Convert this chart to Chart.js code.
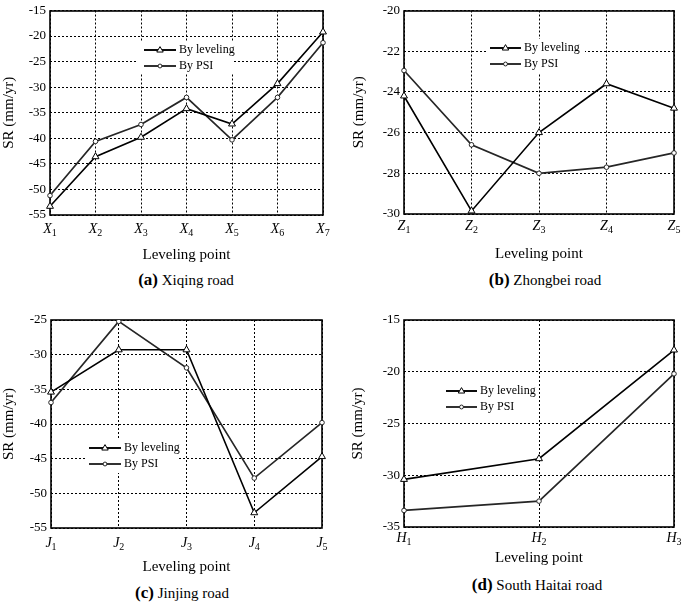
<!DOCTYPE html>
<html><head><meta charset="utf-8">
<script src="https://cdn.jsdelivr.net/npm/chart.js@4/dist/chart.umd.min.js"></script>
<style>
html,body{margin:0;padding:0;background:#fff;}
body{width:685px;height:602px;position:relative;overflow:hidden;}
canvas{position:absolute;}
.cap{position:absolute;font-family:"Liberation Serif",serif;font-size:15px;white-space:nowrap;transform:translate(-50%,-50%);line-height:18px;color:#000;}
.cap b{font-size:17px;}
</style></head>
<body>
<canvas id="ca"></canvas>
<canvas id="cb"></canvas>
<canvas id="cc"></canvas>
<canvas id="cd"></canvas>
<div class="cap" style="left:186px;top:280px"><b>(a)</b> Xiqing road</div>
<div class="cap" style="left:545px;top:280px"><b>(b)</b> Zhongbei road</div>
<div class="cap" style="left:182px;top:593px"><b>(c)</b> Jinjing road</div>
<div class="cap" style="left:537px;top:585px"><b>(d)</b> South Haitai road</div>
<script>
// ---- data ----
const seriesNames = ['By leveling', 'By PSI'];

const xiqingPoints   = ['X1','X2','X3','X4','X5','X6','X7'];
const xiqingLeveling = [-53.3,-43.6,-39.8,-34.2,-37.2,-29.3,-19.2];
const xiqingPSI      = [-51.2,-40.6,-37.3,-32.0,-40.3,-32.0,-21.3];
const xiqingYAxis    = [-55,-15,5];   // min, max, step

const zhongbeiPoints   = ['Z1','Z2','Z3','Z4','Z5'];
const zhongbeiLeveling = [-24.2,-29.85,-26.0,-23.6,-24.8];
const zhongbeiPSI      = [-22.95,-26.6,-28.0,-27.7,-27.0];
const zhongbeiYAxis    = [-30,-20,2];

const jinjingPoints   = ['J1','J2','J3','J4','J5'];
const jinjingLeveling = [-35.4,-29.3,-29.3,-52.8,-44.7];
const jinjingPSI      = [-36.9,-25.2,-31.9,-47.8,-39.8];
const jinjingYAxis    = [-55,-25,5];

const haitaiPoints   = ['H1','H2','H3'];
const haitaiLeveling = [-30.4,-28.4,-17.9];
const haitaiPSI      = [-33.4,-32.5,-20.2];
const haitaiYAxis    = [-35,-15,5];

// ---- plugins ----
const SERIF = '"Liberation Serif", serif';

function drawMarker(ctx, style, x, y, r, color) {
  ctx.save();
  ctx.fillStyle = '#fff'; ctx.strokeStyle = color; ctx.lineWidth = 1; ctx.setLineDash([]);
  ctx.beginPath();
  if (style === 'triangle') {
    ctx.moveTo(x, y - r);
    ctx.lineTo(x + r * 0.95, y + r * 0.6);
    ctx.lineTo(x - r * 0.95, y + r * 0.6);
    ctx.closePath();
  } else {
    ctx.arc(x, y, r, 0, Math.PI * 2);
  }
  ctx.fill(); ctx.stroke();
  ctx.restore();
}

const framePlugin = {
  id: 'frame',
  beforeDatasetsDraw(chart, args, o) {
    const ctx = chart.ctx, a = chart.chartArea;
    ctx.save();
    if (o.box) { ctx.fillStyle = '#fff'; ctx.fillRect(o.box[0], o.box[1], o.box[2], o.box[3]); }
    ctx.strokeStyle = '#000'; ctx.lineWidth = 1.6; ctx.setLineDash([]);
    const l = Math.round(a.left), t = Math.round(a.top), r = Math.round(a.right), b = Math.round(a.bottom);
    ctx.strokeRect(l, t, r - l, b - t);
    ctx.restore();
  },
  afterDatasetsDraw(chart, args, o) {
    const ctx = chart.ctx;
    ctx.save();
    chart.data.datasets.forEach((ds, i) => {
      const y = o.y + i * o.dy;
      ctx.strokeStyle = ds.borderColor; ctx.lineWidth = 1.9; ctx.setLineDash([]);
      ctx.beginPath(); ctx.moveTo(o.x, y); ctx.lineTo(o.x + o.len, y); ctx.stroke();
      drawMarker(ctx, ds.pointStyle, o.x + o.len / 2, y, ds.pointRadius * 0.85, ds.borderColor);
      ctx.fillStyle = '#000'; ctx.font = '12px ' + SERIF; ctx.textAlign = 'left'; ctx.textBaseline = 'middle';
      ctx.fillText(ds.label, o.x + o.len + 3, y);
    });
    ctx.restore();
  }
};

const subTicksPlugin = {
  id: 'subTicks',
  afterDraw(chart, args, o) {
    const sx = chart.scales.x, ctx = chart.ctx;
    const y = chart.chartArea.bottom + o.base;
    ctx.save(); ctx.fillStyle = '#000'; ctx.textBaseline = 'alphabetic'; ctx.textAlign = 'left';
    sx.ticks.forEach((t, i) => {
      const lab = String(chart.data.labels[i]);
      const base = lab[0], sub = lab.slice(1);
      const x = sx.getPixelForTick(i);
      ctx.font = 'italic 14px ' + SERIF; const w1 = ctx.measureText(base).width;
      ctx.font = '10px ' + SERIF; const w2 = ctx.measureText(sub).width;
      const x0 = x - (w1 + w2) / 2;
      ctx.font = 'italic 14px ' + SERIF; ctx.fillText(base, x0, y);
      ctx.font = '10px ' + SERIF; ctx.fillText(sub, x0 + w1, y + 3);
    });
    ctx.restore();
  }
};

// ---- chart builder ----
function makeChart(id, pos, labels, lev, psi, yAxis, lay) {
  const cv = document.getElementById(id);
  cv.width = pos.w; cv.height = pos.h;
  cv.style.left = pos.left + 'px'; cv.style.top = pos.top + 'px';
  cv.style.width = pos.w + 'px'; cv.style.height = pos.h + 'px';
  new Chart(cv, {
    type: 'line',
    data: {
      labels: labels,
      datasets: [
        { label: seriesNames[0], data: lev, borderColor: '#000', borderWidth: 1.6,
          pointStyle: 'triangle', pointRadius: 4, pointBackgroundColor: '#fff',
          pointBorderColor: '#000', pointBorderWidth: 1, tension: 0, fill: false },
        { label: seriesNames[1], data: psi, borderColor: '#262626', borderWidth: 1.7,
          pointStyle: 'circle', pointRadius: 2.3, pointBackgroundColor: '#fff',
          pointBorderColor: '#262626', pointBorderWidth: 1, tension: 0, fill: false }
      ]
    },
    options: {
      responsive: false, animation: false, devicePixelRatio: 1,
      layout: { padding: lay.padding },
      plugins: {
        legend: { display: false }, tooltip: { enabled: false },
        frame: lay.legend,
        subTicks: { base: lay.tickBase }
      },
      scales: {
        x: {
          type: 'category', offset: false,
          grid: { color: '#000', lineWidth: 1, drawTicks: false },
          border: { display: false, dash: [2, 2] },
          ticks: { display: false },
          title: { display: true, text: 'Leveling point', color: '#000',
                   font: { family: SERIF, size: 15, lineHeight: 1.2 }, padding: 0 },
          afterFit: s => { s.height = lay.xHeight; }
        },
        y: {
          min: yAxis[0], max: yAxis[1],
          grid: { color: '#000', lineWidth: 1, drawTicks: false },
          border: { display: false, dash: [2, 2] },
          ticks: { stepSize: yAxis[2], color: '#000', padding: 4,
                   font: { family: SERIF, size: 13, lineHeight: 1 } },
          title: { display: true, text: 'SR (mm/yr)', color: '#000',
                   font: { family: SERIF, size: 15, lineHeight: 1.2 }, padding: 0 },
          afterFit: s => { s.width = lay.yWidth; }
        }
      }
    },
    plugins: [framePlugin, subTicksPlugin]
  });
}

makeChart('ca', {left: 0, top: 0, w: 342, h: 264}, xiqingPoints, xiqingLeveling, xiqingPSI, xiqingYAxis,
  { padding: {left: 0, top: 7, right: 19, bottom: 0}, yWidth: 50, xHeight: 49, tickBase: 18,
    legend: { x: 144, y: 50, dy: 16, len: 32, box: [137, 41, 97, 33] } });

makeChart('cb', {left: 342, top: 0, w: 343, h: 263}, zhongbeiPoints, zhongbeiLeveling, zhongbeiPSI, zhongbeiYAxis,
  { padding: {left: 8, top: 8, right: 11, bottom: 0}, yWidth: 54, xHeight: 49, tickBase: 16,
    legend: { x: 148, y: 48, dy: 16, len: 31, box: [145, 39, 98, 34] } });

makeChart('cc', {left: 0, top: 300, w: 342, h: 276}, jinjingPoints, jinjingLeveling, jinjingPSI, jinjingYAxis,
  { padding: {left: 0, top: 20, right: 20, bottom: 0}, yWidth: 51, xHeight: 48, tickBase: 19,
    legend: { x: 89, y: 148, dy: 16, len: 32, box: [86, 138, 92, 35] } });

makeChart('cd', {left: 342, top: 300, w: 343, h: 267}, haitaiPoints, haitaiLeveling, haitaiPSI, haitaiYAxis,
  { padding: {left: 7, top: 20, right: 11, bottom: 0}, yWidth: 55, xHeight: 40, tickBase: 15,
    legend: { x: 104, y: 91, dy: 16, len: 31, box: [101, 82, 94, 34] } });
</script>
</body></html>
